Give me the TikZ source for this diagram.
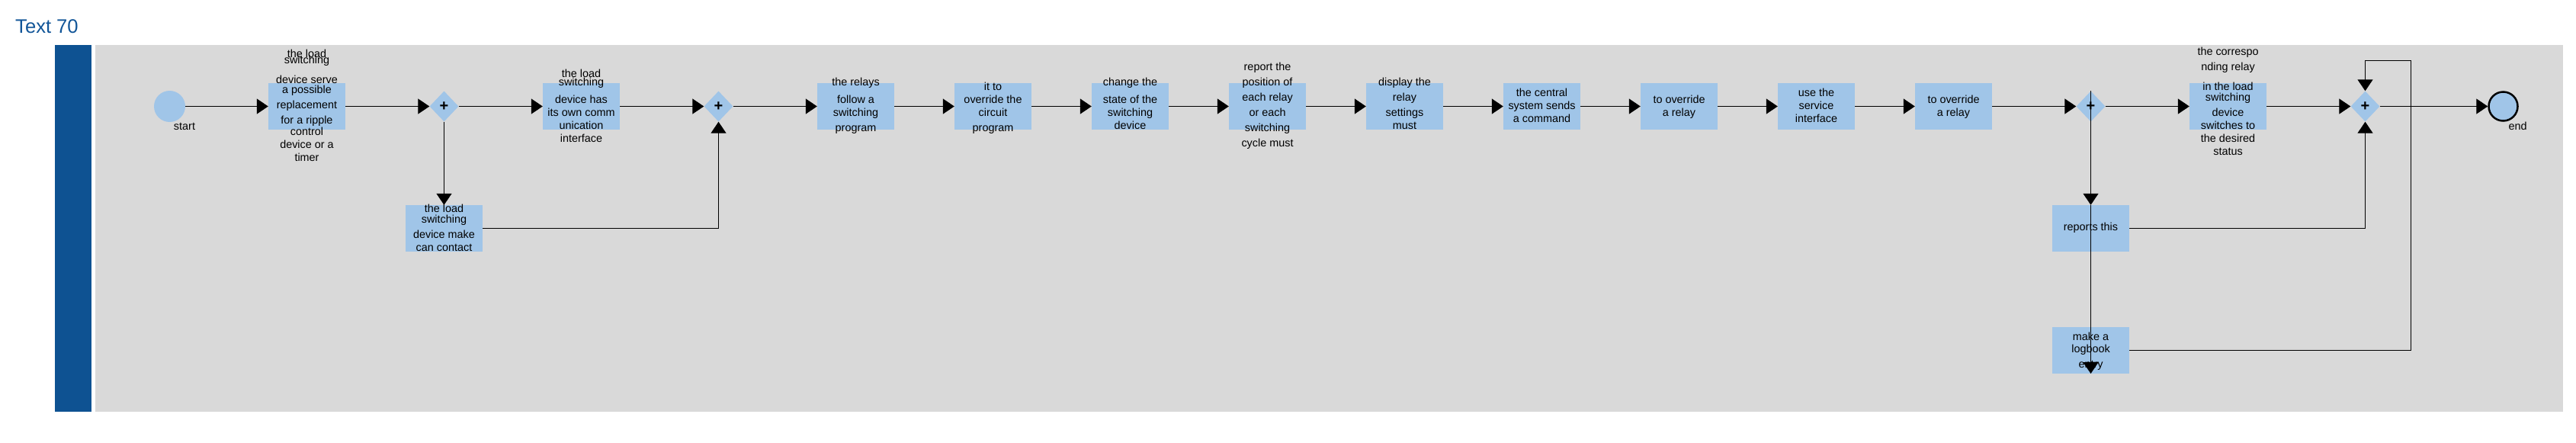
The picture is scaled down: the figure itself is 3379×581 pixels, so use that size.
\documentclass[tikz,border=0pt]{standalone}
\usepackage{fontspec}
\setmainfont{Liberation Sans}
\usetikzlibrary{shapes.geometric,arrows.meta}
\definecolor{boxblue}{HTML}{A0C5E8}
\definecolor{lanegray}{HTML}{D9D9D9}
\definecolor{barblue}{HTML}{0E5292}
\definecolor{titleblue}{HTML}{115598}
\newcommand\myline[4]{\node[ln] (#1) at (#2,#3) {#4};}
\begin{document}
\begin{tikzpicture}[x=1pt,y=-1pt,
  task/.style={rectangle, fill=boxblue, minimum width=101pt, minimum height=61pt, inner sep=0pt},
  gw/.style={diamond, fill=boxblue, minimum width=38pt, minimum height=40pt, inner sep=0pt,
    font=\fontsize{20}{20}\selectfont\bfseries},
  startev/.style={circle, fill=boxblue, minimum size=41pt, inner sep=0pt},
  endev/.style={circle, fill=boxblue, draw=black, line width=2.5pt, minimum size=38pt, inner sep=0pt},
  ln/.style={font=\fontsize{14.4}{14.4}\selectfont, text height=10pt, text depth=3pt, inner sep=0pt},
  flow/.style={draw=black, line width=1.2pt, -{Triangle[length=15pt,width=20pt]}},
  plain/.style={draw=black, line width=1.2pt}]
\useasboundingbox (0,0) rectangle (3379,581);
\fill[white] (0,0) rectangle (3379,581);
\fill[lanegray] (125,59) rectangle (3362,540);
\fill[barblue] (72,59) rectangle (120,540);
\node[anchor=base west, inner sep=0pt, text=titleblue, font=\fontsize{25.6}{26}\selectfont] (title) at (20,43.3) {Text 70};
% events
\node[startev] (start) at (222.5,139.5) {};
\node[endev] (end) at (3283.5,139.5) {};
\myline{startlbl}{242}{167}{start}
\myline{endlbl}{3302.5}{167}{end}
% tasks
\node[task] (t1) at (402.5,139.5) {};
\node[task] (t1b) at (582.5,299.5) {};
\node[task] (t2) at (762.5,139.5) {};
\node[task] (t3) at (1122.5,139.5) {};
\node[task] (t4) at (1302.5,139.5) {};
\node[task] (t5) at (1482.5,139.5) {};
\node[task] (t6) at (1662.5,139.5) {};
\node[task] (t7) at (1842.5,139.5) {};
\node[task] (t8) at (2022.5,139.5) {};
\node[task] (t9) at (2202.5,139.5) {};
\node[task] (t10) at (2382.5,139.5) {};
\node[task] (t11) at (2562.5,139.5) {};
\node[task] (t12) at (2922.5,139.5) {};
\node[task] (rep) at (2742.5,299.5) {};
\node[task] (log) at (2742.5,459.3) {};
% gateways
\node[gw] (gw1) at (582.5,139.5) {+};
\node[gw] (gw2) at (942.5,139.5) {+};
\node[gw] (gw3) at (2742.5,139.5) {+};
\node[gw] (gw4) at (3102.5,139.5) {+};
% texts
\myline{a1}{402.5}{72}{the load}
\myline{a2}{402.5}{80}{switching}
\myline{a3}{402.5}{106}{device serve}
\myline{a4}{402.5}{119}{a possible}
\myline{a5}{402.5}{139}{replacement}
\myline{a6}{402.5}{159}{for a ripple}
\myline{a7}{402.5}{174}{control}
\myline{a8}{402.5}{191}{device or a}
\myline{a9}{402.5}{208}{timer}
\myline{b1}{582.5}{275}{the load}
\myline{b2}{582.5}{289.3}{switching}
\myline{b3}{582.5}{309}{device make}
\myline{b4}{582.5}{326}{can contact}
\myline{c1}{762.5}{98.3}{the load}
\myline{c2}{762.5}{109.3}{switching}
\myline{c3}{762.5}{132}{device has}
\myline{c4}{762.5}{149.3}{its own comm}
\myline{c5}{762.5}{166}{unication}
\myline{c6}{762.5}{183}{interface}
\myline{d1}{1122.5}{109.3}{the relays}
\myline{d2}{1122.5}{132}{follow a}
\myline{d3}{1122.5}{149.3}{switching}
\myline{d4}{1122.5}{169.3}{program}
\myline{e1}{1302.5}{115}{it to}
\myline{e2}{1302.5}{132}{override the}
\myline{e3}{1302.5}{149.3}{circuit}
\myline{e4}{1302.5}{169.3}{program}
\myline{f1}{1482.5}{109.3}{change the}
\myline{f2}{1482.5}{132}{state of the}
\myline{f3}{1482.5}{149.3}{switching}
\myline{f4}{1482.5}{166}{device}
\myline{g1}{1662.5}{89.3}{report the}
\myline{g2}{1662.5}{109.3}{position of}
\myline{g3}{1662.5}{129.3}{each relay}
\myline{g4}{1662.5}{149.3}{or each}
\myline{g5}{1662.5}{169.3}{switching}
\myline{g6}{1662.5}{189}{cycle must}
\myline{h1}{1842.5}{109.3}{display the}
\myline{h2}{1842.5}{129.3}{relay}
\myline{h3}{1842.5}{149.3}{settings}
\myline{h4}{1842.5}{166}{must}
\myline{i1}{2022.5}{123}{the central}
\myline{i2}{2022.5}{139.7}{system sends}
\myline{i3}{2022.5}{157.3}{a command}
\myline{j1}{2202.5}{132}{to override}
\myline{j2}{2202.5}{149.3}{a relay}
\myline{k1}{2382.5}{123}{use the}
\myline{k2}{2382.5}{140}{service}
\myline{k3}{2382.5}{157.3}{interface}
\myline{l1}{2562.5}{132}{to override}
\myline{l2}{2562.5}{149.3}{a relay}
\myline{m1}{2922.5}{69.3}{the correspo}
\myline{m2}{2922.5}{89.3}{nding relay}
\myline{m3}{2922.5}{115.3}{in the load}
\myline{m4}{2922.5}{129.3}{switching}
\myline{m5}{2922.5}{149.3}{device}
\myline{m6}{2922.5}{166.3}{switches to}
\myline{m7}{2922.5}{183.3}{the desired}
\myline{m8}{2922.5}{200.3}{status}
\myline{n1}{2742.5}{299}{reports this}
\myline{o1}{2742.5}{442.7}{make a}
\myline{o2}{2742.5}{459}{logbook}
\myline{o3}{2742.5}{479.3}{entry}
% connectors
\draw[flow] (start) -- (t1);
\draw[flow] (t1) -- (gw1);
\draw[flow] (gw1) -- (t2);
\draw[flow] (t2) -- (gw2);
\draw[flow] (gw2) -- (t3);
\draw[flow] (t3) -- (t4);
\draw[flow] (t4) -- (t5);
\draw[flow] (t5) -- (t6);
\draw[flow] (t6) -- (t7);
\draw[flow] (t7) -- (t8);
\draw[flow] (t8) -- (t9);
\draw[flow] (t9) -- (t10);
\draw[flow] (t10) -- (t11);
\draw[flow] (t11) -- (gw3);
\draw[flow] (gw3) -- (t12);
\draw[flow] (t12) -- (gw4);
\draw[flow] (gw4) -- (end);
\draw[flow] (gw1.south) -- (t1b.north);
\draw[flow] (t1b.east) -| (gw2.south);
\draw[flow] (gw3.north) -- (rep.north);
\draw[flow] (rep.north) -- (log.south);
\draw[flow] (rep.east) -| (gw4.south);
\coordinate (loopc) at (3162.5,79.5);
\draw[flow] (log.east) -| (loopc) -| (gw4.north);
\end{tikzpicture}
\end{document}
